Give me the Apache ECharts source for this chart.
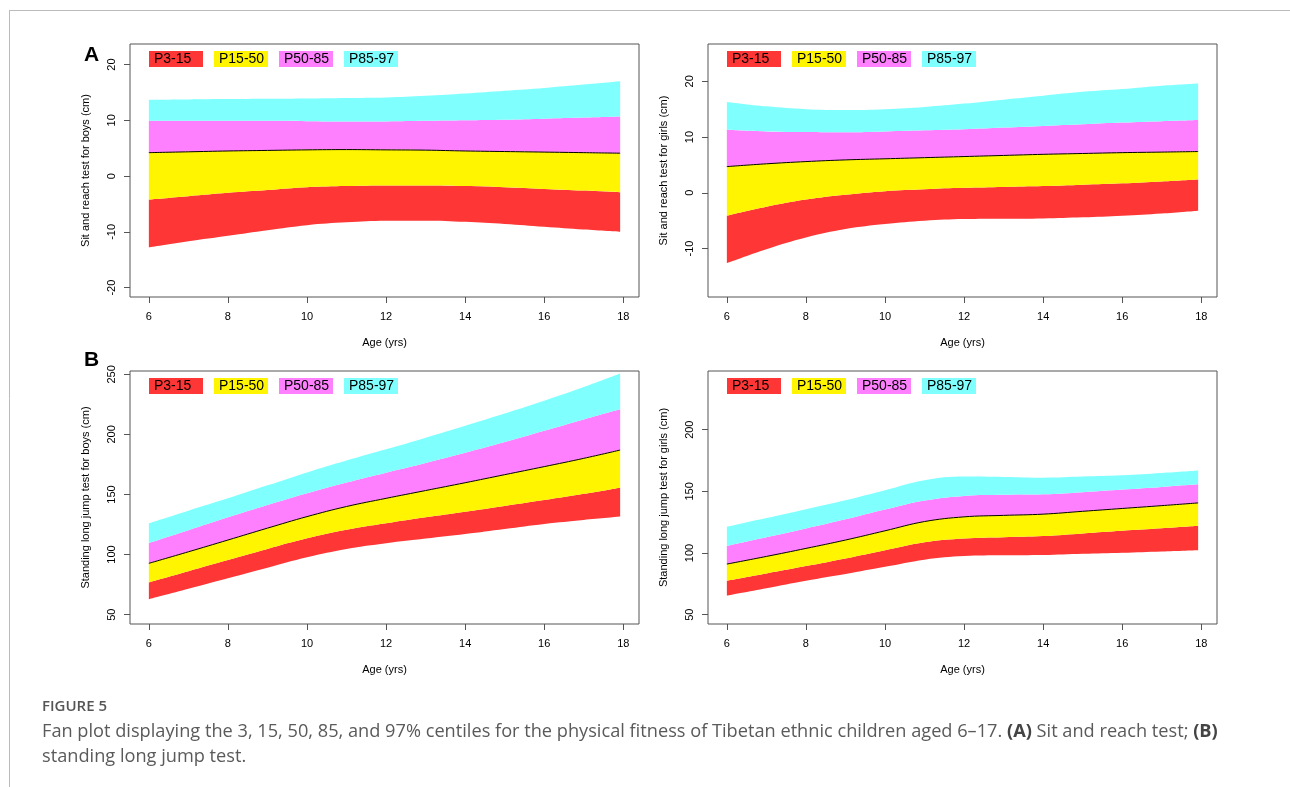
<!DOCTYPE html>
<html>
<head>
<meta charset="utf-8">
<script src="https://cdn.jsdelivr.net/npm/echarts@6/dist/echarts.min.js"></script>
<style>
html,body{margin:0;padding:0;background:#fff;}
#chart{width:1290px;height:787px;}
</style>
</head>
<body>
<div id="chart"></div>
<script>
// ---- data ----
const ages = [6, 7, 8, 9, 10, 11, 12, 13, 14, 15, 16, 17, 17.92];
const bandNames = ['P3-15', 'P15-50', 'P50-85', 'P85-97'];
const xTicks = [6, 8, 10, 12, 14, 16, 18];

// A: Sit and reach, boys
const srBoysP3  = [-12.8, -11.7, -10.7, -9.7, -8.8, -8.3, -8.0, -8.0, -8.2, -8.6, -9.1, -9.6, -10.0];
const srBoysP15 = [-4.2, -3.6, -3.0, -2.5, -2.0, -1.8, -1.7, -1.7, -1.8, -2.0, -2.3, -2.6, -2.9];
const srBoysP50 = [4.2, 4.35, 4.5, 4.6, 4.7, 4.75, 4.7, 4.65, 4.5, 4.4, 4.3, 4.2, 4.1];
const srBoysP85 = [9.9, 9.9, 9.9, 9.9, 9.85, 9.8, 9.8, 9.9, 10.0, 10.1, 10.3, 10.5, 10.7];
const srBoysP97 = [13.7, 13.75, 13.8, 13.85, 13.9, 14.0, 14.1, 14.4, 14.8, 15.3, 15.8, 16.4, 17.0];
const srBoysTicks = [-20, -10, 0, 10, 20];

// A: Sit and reach, girls
const srGirlsP3  = [-12.6, -10.1, -8.0, -6.5, -5.6, -5.0, -4.7, -4.65, -4.6, -4.4, -4.1, -3.7, -3.2];
const srGirlsP15 = [-4.1, -2.5, -1.2, -0.35, 0.3, 0.65, 0.9, 1.05, 1.2, 1.45, 1.7, 2.05, 2.4];
const srGirlsP50 = [4.7, 5.2, 5.6, 5.9, 6.1, 6.3, 6.5, 6.7, 6.9, 7.05, 7.2, 7.3, 7.4];
const srGirlsP85 = [11.3, 11.0, 10.9, 10.85, 11.0, 11.2, 11.4, 11.7, 12.0, 12.3, 12.6, 12.85, 13.05];
const srGirlsP97 = [16.3, 15.5, 15.0, 14.85, 15.0, 15.4, 16.0, 16.7, 17.4, 18.1, 18.6, 19.2, 19.6];
const srGirlsTicks = [-10, 0, 10, 20];

// B: Standing long jump, boys
const ljBoysP3  = [62.8, 71.5, 80.2, 89.0, 97.7, 104.6, 109.4, 113.3, 117.1, 121.3, 125.5, 128.8, 131.6];
const ljBoysP15 = [76.9, 86.2, 95.5, 104.7, 113.5, 120.6, 126.0, 131.0, 135.7, 140.5, 145.4, 150.6, 155.7];
const ljBoysP50 = [92.7, 102.3, 112.1, 122.0, 131.6, 140.0, 146.8, 153.3, 159.8, 166.5, 173.2, 180.1, 187.0];
const ljBoysP85 = [109.6, 120.3, 131.0, 141.2, 151.0, 160.0, 168.2, 176.3, 184.8, 193.7, 203.1, 212.5, 220.9];
const ljBoysP97 = [126.0, 136.5, 146.8, 157.6, 168.4, 178.3, 187.6, 197.3, 207.3, 217.5, 228.1, 239.5, 250.8];
const ljBoysTicks = [50, 100, 150, 200, 250];

// B: Standing long jump, girls
const ljGirlsP3  = [65.4, 71.4, 77.5, 83.0, 88.8, 94.6, 97.5, 98.1, 98.3, 99.3, 100.2, 101.3, 102.3];
const ljGirlsP15 = [77.5, 83.4, 89.4, 95.6, 102.3, 108.8, 111.8, 112.8, 113.7, 115.9, 118.0, 120.0, 122.0];
const ljGirlsP50 = [91.0, 97.2, 103.7, 110.5, 118.0, 125.5, 129.3, 130.5, 131.5, 133.8, 136.1, 138.4, 140.6];
const ljGirlsP85 = [105.8, 112.8, 119.9, 127.3, 135.2, 142.5, 146.3, 147.2, 147.6, 149.3, 151.4, 153.6, 155.7];
const ljGirlsP97 = [121.2, 128.3, 135.5, 142.8, 150.9, 159.0, 162.0, 161.7, 161.1, 162.0, 163.0, 164.8, 166.8];
const ljGirlsTicks = [50, 100, 150, 200];

// ---- presentation ----
const bandColors = ['#ff3636', '#fff500', '#ff80ff', '#80ffff'];
const FONT = 'Liberation Sans, Arial, sans-serif';
const AXIS_GRAY = '#555';

const panels = [
  { title: 'Sit and reach test for boys (cm)', c: [srBoysP3, srBoysP15, srBoysP50, srBoysP85, srBoysP97], ticks: srBoysTicks, ymin: -21.68, ymax: 23.68, left: 130, top: 44 },
  { title: 'Sit and reach test for girls (cm)', c: [srGirlsP3, srGirlsP15, srGirlsP50, srGirlsP85, srGirlsP97], ticks: srGirlsTicks, ymin: -18.68, ymax: 26.68, left: 708, top: 44 },
  { title: 'Standing long jump test for boys (cm)', c: [ljBoysP3, ljBoysP15, ljBoysP50, ljBoysP85, ljBoysP97], ticks: ljBoysTicks, ymin: 42.2, ymax: 252.8, left: 130, top: 371 },
  { title: 'Standing long jump test for girls (cm)', c: [ljGirlsP3, ljGirlsP15, ljGirlsP50, ljGirlsP85, ljGirlsP97], ticks: ljGirlsTicks, ymin: 42.4, ymax: 247.6, left: 708, top: 371 }
];
const GRID_W = 509, GRID_H = 253;

const grid = [], xAxis = [], yAxis = [], series = [], legend = [];
panels.forEach((p, i) => {
  grid.push({ left: p.left, top: p.top, width: GRID_W, height: GRID_H, show: true, z: 10, borderColor: AXIS_GRAY, borderWidth: 1, backgroundColor: 'transparent' });
  xAxis.push({
    type: 'value', gridIndex: i, min: 5.523, max: 18.397,
    name: 'Age (yrs)', nameLocation: 'middle', nameGap: 40,
    nameTextStyle: { fontFamily: FONT, fontSize: 11, color: '#000' },
    splitLine: { show: false }, axisLine: { show: false, onZero: false },
    axisTick: { show: true, length: 6, lineStyle: { color: AXIS_GRAY }, customValues: xTicks },
    axisLabel: { fontFamily: FONT, fontSize: 11, color: '#000', margin: 14, customValues: xTicks }
  });
  yAxis.push({
    type: 'value', gridIndex: i, min: p.ymin, max: p.ymax,
    name: p.title, nameLocation: 'middle', nameGap: 39,
    nameTextStyle: { fontFamily: FONT, fontSize: 11, color: '#000' },
    splitLine: { show: false }, axisLine: { show: false, onZero: false },
    axisTick: { show: true, length: 6, lineStyle: { color: AXIS_GRAY }, customValues: p.ticks },
    axisLabel: { fontFamily: FONT, fontSize: 11, color: '#000', margin: 13, rotate: 90, customValues: p.ticks }
  });
  // Stacked fan: an invisible base at P3, then each band (upper centile minus lower centile).
  // Value goes in column 0 so that it is the stacked dimension; age in column 1.
  const stack = 'fan' + i;
  const common = {
    type: 'line', xAxisIndex: i, yAxisIndex: i, stack: stack, stackStrategy: 'all',
    encode: { x: 1, y: 0 }, symbol: 'none', smooth: 0.4, silent: true, animation: false
  };
  series.push(Object.assign({}, common, {
    name: 'P3',
    data: ages.map((a, k) => [p.c[0][k], a]),
    lineStyle: { opacity: 0 }
  }));
  for (let b = 0; b < 4; b++) {
    series.push(Object.assign({}, common, {
      name: bandNames[b],
      data: ages.map((a, k) => [p.c[b + 1][k] - p.c[b][k], a]),
      areaStyle: { color: bandColors[b], opacity: 1 },
      lineStyle: b === 1 ? { color: '#000', width: 1 } : { opacity: 0 },
      z: b === 1 ? 3 : 2
    }));
  }
  legend.push({
    left: p.left + 14, top: p.top + 7, orient: 'horizontal', padding: 0,
    selectedMode: false, itemWidth: 0, itemHeight: 0, itemGap: 6,
    icon: 'rect',
    data: bandNames.map((n, b) => ({
      name: n,
      itemStyle: { opacity: 0 },
      textStyle: { backgroundColor: bandColors[b], width: 44, padding: [1, 5, 1, 5], lineHeight: 14, fontSize: 14, color: '#000', fontFamily: FONT }
    }))
  });
});

const chart = echarts.init(document.getElementById('chart'), null, { renderer: 'canvas' });
chart.setOption({
  backgroundColor: '#fff',
  animation: false,
  grid, xAxis, yAxis, series, legend,
  graphic: [
    { type: 'line', shape: { x1: 10, y1: 10.5, x2: 1290, y2: 10.5 }, style: { stroke: '#bbb', lineWidth: 1 } },
    { type: 'line', shape: { x1: 9.5, y1: 10, x2: 9.5, y2: 787 }, style: { stroke: '#bbb', lineWidth: 1 } },
    { type: 'text', left: 84, top: 45, style: { text: 'A', font: 'bold 21px ' + FONT, fill: '#000' } },
    { type: 'text', left: 84, top: 350, style: { text: 'B', font: 'bold 21px ' + FONT, fill: '#000' } },
    { type: 'text', left: 42, top: 699, style: { text: 'FIGURE 5', font: '600 15px "Open Sans", sans-serif', fill: '#555' } },
    { type: 'text', left: 42, top: 719, style: {
        text: 'Fan plot displaying the 3, 15, 50, 85, and 97% centiles for the physical fitness of Tibetan ethnic children aged 6–17. {b|(A)} Sit and reach test; {b|(B)}\nstanding long jump test.',
        font: '18.2px "Open Sans", sans-serif', fill: '#5a5a5a', lineHeight: 25,
        rich: { b: { font: 'bold 18.2px "Open Sans", sans-serif', fill: '#444' } }
    } }
  ]
});
</script>
</body>
</html>
